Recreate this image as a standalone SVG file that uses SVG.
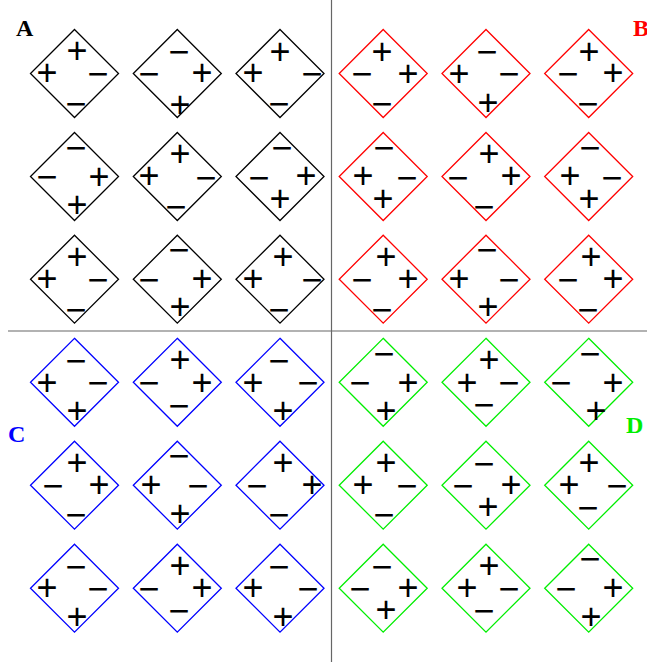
<svg xmlns="http://www.w3.org/2000/svg" width="647" height="662" viewBox="0 0 647 662">
<style>
.bg{fill:#fff}
.dm{fill:none;stroke-width:1.3}
.qa .dm{stroke:#000}
.qb .dm{stroke:#ff0000}
.qc .dm{stroke:#0000ff}
.qd .dm{stroke:#00ee00}
.s{font-family:"Liberation Sans",Arial,sans-serif;font-size:36px;fill:#000;text-anchor:middle;dominant-baseline:central}
.lbl{font-family:"Liberation Serif","Times New Roman",serif;font-weight:bold;font-size:24px}
.div{stroke:#666;stroke-width:1.2}
</style>
<defs>
<polygon id="dia" class="dm" points="0,-44 44,0 0,44 -44,0"/>
</defs>
<rect class="bg" width="647" height="662"/>
<g id="dividers">
<line class="div" x1="331.5" y1="0" x2="331.5" y2="662"/>
<line class="div" x1="8" y1="331" x2="647" y2="331"/>
</g>
<g id="labels">
<text class="lbl" x="16" y="36" fill="#000">A</text>
<text class="lbl" x="633" y="36" fill="#ff0000">B</text>
<text class="lbl" x="8" y="442" fill="#0000ff">C</text>
<text class="lbl" x="626" y="433" fill="#00ee00">D</text>
</g>
<g id="quadA" class="qa">
<g id="A11"><polygon class="dm" points="74.5,29.5 118.5,73.5 74.5,117.5 30.5,73.5"/><text class="s" x="77" y="50">+</text><text class="s" x="47" y="72">+</text><text class="s" x="98" y="73">−</text><text class="s" x="76" y="103">−</text></g>
<g id="A12"><polygon class="dm" points="177.3,29.5 221.3,73.5 177.3,117.5 133.3,73.5"/><text class="s" x="179" y="51">−</text><text class="s" x="149" y="73">−</text><text class="s" x="202" y="72">+</text><text class="s" x="180" y="104">+</text></g>
<g id="A13"><polygon class="dm" points="280,29.5 324,73.5 280,117.5 236,73.5"/><text class="s" x="280" y="51">+</text><text class="s" x="253" y="72">+</text><text class="s" x="312" y="73">−</text><text class="s" x="279" y="103">−</text></g>
<g id="A21"><polygon class="dm" points="74.5,132.5 118.5,176.5 74.5,220.5 30.5,176.5"/><text class="s" x="76" y="147">−</text><text class="s" x="47" y="176">−</text><text class="s" x="99" y="176">+</text><text class="s" x="77" y="204">+</text></g>
<g id="A22"><polygon class="dm" points="177.3,132.5 221.3,176.5 177.3,220.5 133.3,176.5"/><text class="s" x="180" y="153">+</text><text class="s" x="149" y="175">+</text><text class="s" x="206" y="177">−</text><text class="s" x="176" y="206">−</text></g>
<g id="A23"><polygon class="dm" points="280,132.5 324,176.5 280,220.5 236,176.5"/><text class="s" x="282" y="147">−</text><text class="s" x="259" y="177">−</text><text class="s" x="306" y="175">+</text><text class="s" x="280" y="198">+</text></g>
<g id="A31"><polygon class="dm" points="74.5,235.2 118.5,279.2 74.5,323.2 30.5,279.2"/><text class="s" x="77" y="256">+</text><text class="s" x="47" y="278">+</text><text class="s" x="98" y="279">−</text><text class="s" x="76" y="309">−</text></g>
<g id="A32"><polygon class="dm" points="177.3,235.2 221.3,279.2 177.3,323.2 133.3,279.2"/><text class="s" x="179" y="249">−</text><text class="s" x="149" y="279">−</text><text class="s" x="202" y="278">+</text><text class="s" x="180" y="306">+</text></g>
<g id="A33"><polygon class="dm" points="280,235.2 324,279.2 280,323.2 236,279.2"/><text class="s" x="283" y="256">+</text><text class="s" x="253" y="278">+</text><text class="s" x="312" y="279">−</text><text class="s" x="279" y="309">−</text></g>
</g>
<g id="quadB" class="qb">
<g id="B11"><polygon class="dm" points="383.2,29.5 427.2,73.5 383.2,117.5 339.2,73.5"/><text class="s" x="382" y="51">+</text><text class="s" x="362" y="73">−</text><text class="s" x="408" y="73">+</text><text class="s" x="382" y="103">−</text></g>
<g id="B12"><polygon class="dm" points="486,29.5 530,73.5 486,117.5 442,73.5"/><text class="s" x="487" y="51">−</text><text class="s" x="459" y="73">+</text><text class="s" x="509" y="73">−</text><text class="s" x="488" y="102">+</text></g>
<g id="B13"><polygon class="dm" points="588.7,29.5 632.7,73.5 588.7,117.5 544.7,73.5"/><text class="s" x="589" y="51">+</text><text class="s" x="568" y="73">−</text><text class="s" x="613" y="72">+</text><text class="s" x="588" y="103">−</text></g>
<g id="B21"><polygon class="dm" points="383.2,132.5 427.2,176.5 383.2,220.5 339.2,176.5"/><text class="s" x="384" y="147">−</text><text class="s" x="363" y="175">+</text><text class="s" x="407" y="177">−</text><text class="s" x="383" y="198">+</text></g>
<g id="B22"><polygon class="dm" points="486,132.5 530,176.5 486,220.5 442,176.5"/><text class="s" x="489" y="153">+</text><text class="s" x="458" y="177">−</text><text class="s" x="511" y="175">+</text><text class="s" x="484" y="206">−</text></g>
<g id="B23"><polygon class="dm" points="588.7,132.5 632.7,176.5 588.7,220.5 544.7,176.5"/><text class="s" x="590" y="147">−</text><text class="s" x="570" y="175">+</text><text class="s" x="612" y="177">−</text><text class="s" x="589" y="198">+</text></g>
<g id="B31"><polygon class="dm" points="383.2,235.2 427.2,279.2 383.2,323.2 339.2,279.2"/><text class="s" x="386" y="256">+</text><text class="s" x="362" y="279">−</text><text class="s" x="408" y="278">+</text><text class="s" x="382" y="309">−</text></g>
<g id="B32"><polygon class="dm" points="486,235.2 530,279.2 486,323.2 442,279.2"/><text class="s" x="487" y="249">−</text><text class="s" x="459" y="278">+</text><text class="s" x="509" y="279">−</text><text class="s" x="488" y="306">+</text></g>
<g id="B33"><polygon class="dm" points="588.7,235.2 632.7,279.2 588.7,323.2 544.7,279.2"/><text class="s" x="591" y="256">+</text><text class="s" x="568" y="279">−</text><text class="s" x="613" y="278">+</text><text class="s" x="588" y="309">−</text></g>
</g>
<g id="quadC" class="qc">
<g id="C11"><polygon class="dm" points="74.5,338.3 118.5,382.3 74.5,426.3 30.5,382.3"/><text class="s" x="76" y="360">−</text><text class="s" x="47" y="382">+</text><text class="s" x="98" y="382">−</text><text class="s" x="77" y="410">+</text></g>
<g id="C12"><polygon class="dm" points="177.3,338.3 221.3,382.3 177.3,426.3 133.3,382.3"/><text class="s" x="180" y="359">+</text><text class="s" x="149" y="382">−</text><text class="s" x="202" y="382">+</text><text class="s" x="179" y="405">−</text></g>
<g id="C13"><polygon class="dm" points="280,338.3 324,382.3 280,426.3 236,382.3"/><text class="s" x="279" y="360">−</text><text class="s" x="253" y="382">+</text><text class="s" x="308" y="382">−</text><text class="s" x="283" y="410">+</text></g>
<g id="C21"><polygon class="dm" points="74.5,441.2 118.5,485.2 74.5,529.2 30.5,485.2"/><text class="s" x="77" y="462">+</text><text class="s" x="53" y="485">−</text><text class="s" x="99" y="484">+</text><text class="s" x="76" y="514">−</text></g>
<g id="C22"><polygon class="dm" points="177.3,441.2 221.3,485.2 177.3,529.2 133.3,485.2"/><text class="s" x="179" y="455">−</text><text class="s" x="151" y="484">+</text><text class="s" x="198" y="485">−</text><text class="s" x="180" y="513">+</text></g>
<g id="C23"><polygon class="dm" points="280,441.2 324,485.2 280,529.2 236,485.2"/><text class="s" x="283" y="462">+</text><text class="s" x="257" y="485">−</text><text class="s" x="312" y="484">+</text><text class="s" x="279" y="514">−</text></g>
<g id="C31"><polygon class="dm" points="74.5,544.2 118.5,588.2 74.5,632.2 30.5,588.2"/><text class="s" x="76" y="566">−</text><text class="s" x="47" y="587">+</text><text class="s" x="98" y="588">−</text><text class="s" x="77" y="616">+</text></g>
<g id="C32"><polygon class="dm" points="177.3,544.2 221.3,588.2 177.3,632.2 133.3,588.2"/><text class="s" x="180" y="565">+</text><text class="s" x="149" y="588">−</text><text class="s" x="202" y="587">+</text><text class="s" x="179" y="610">−</text></g>
<g id="C33"><polygon class="dm" points="280,544.2 324,588.2 280,632.2 236,588.2"/><text class="s" x="279" y="566">−</text><text class="s" x="253" y="587">+</text><text class="s" x="308" y="588">−</text><text class="s" x="283" y="616">+</text></g>
</g>
<g id="quadD" class="qd">
<g id="D11"><polygon class="dm" points="383.2,338.3 427.2,382.3 383.2,426.3 339.2,382.3"/><text class="s" x="384" y="353">−</text><text class="s" x="360" y="382">−</text><text class="s" x="408" y="382">+</text><text class="s" x="386" y="410">+</text></g>
<g id="D12"><polygon class="dm" points="486,338.3 530,382.3 486,426.3 442,382.3"/><text class="s" x="489" y="359">+</text><text class="s" x="467" y="382">+</text><text class="s" x="509" y="382">−</text><text class="s" x="484" y="404">−</text></g>
<g id="D13"><polygon class="dm" points="588.7,338.3 632.7,382.3 588.7,426.3 544.7,382.3"/><text class="s" x="590" y="353">−</text><text class="s" x="561" y="382">−</text><text class="s" x="613" y="382">+</text><text class="s" x="596" y="410">+</text></g>
<g id="D21"><polygon class="dm" points="383.2,441.2 427.2,485.2 383.2,529.2 339.2,485.2"/><text class="s" x="386" y="462">+</text><text class="s" x="363" y="484">+</text><text class="s" x="407" y="485">−</text><text class="s" x="384" y="514">−</text></g>
<g id="D22"><polygon class="dm" points="486,441.2 530,485.2 486,529.2 442,485.2"/><text class="s" x="484" y="463">−</text><text class="s" x="463" y="485">−</text><text class="s" x="511" y="484">+</text><text class="s" x="488" y="506">+</text></g>
<g id="D23"><polygon class="dm" points="588.7,441.2 632.7,485.2 588.7,529.2 544.7,485.2"/><text class="s" x="589" y="462">+</text><text class="s" x="569" y="484">+</text><text class="s" x="617" y="485">−</text><text class="s" x="588" y="507">−</text></g>
<g id="D31"><polygon class="dm" points="383.2,544.2 427.2,588.2 383.2,632.2 339.2,588.2"/><text class="s" x="382" y="566">−</text><text class="s" x="360" y="588">−</text><text class="s" x="408" y="587">+</text><text class="s" x="386" y="609">+</text></g>
<g id="D32"><polygon class="dm" points="486,544.2 530,588.2 486,632.2 442,588.2"/><text class="s" x="489" y="565">+</text><text class="s" x="467" y="587">+</text><text class="s" x="509" y="588">−</text><text class="s" x="484" y="610">−</text></g>
<g id="D33"><polygon class="dm" points="588.7,544.2 632.7,588.2 588.7,632.2 544.7,588.2"/><text class="s" x="590" y="558">−</text><text class="s" x="566" y="588">−</text><text class="s" x="613" y="587">+</text><text class="s" x="591" y="616">+</text></g>
</g>
</svg>
